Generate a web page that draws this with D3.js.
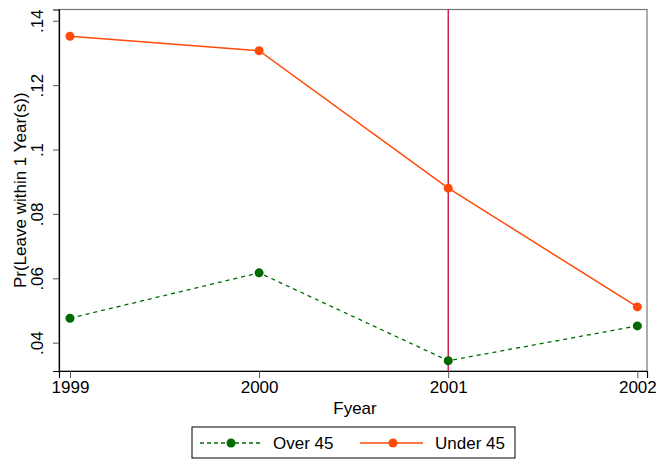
<!DOCTYPE html>
<html><head><meta charset="utf-8">
<script src="https://cdn.jsdelivr.net/npm/d3@7"></script>
<style>body{margin:0;background:#fff;} text{font-family:"Liberation Sans",Arial,Helvetica,sans-serif;fill:#000;}</style>
</head><body>
<svg id="c" width="657" height="460"></svg>
<script>
const years = [1999, 2000, 2001, 2002];
const over45 = [0.0476, 0.0617, 0.0344, 0.0452];
const under45 = [0.1352, 0.1307, 0.0880, 0.0511];
const yTicks = [0.04, 0.06, 0.08, 0.10, 0.12, 0.14];
const yTickLabels = [".04", ".06", ".08", ".1", ".12", ".14"];
const xTicks = [1999, 2000, 2001, 2002];
const refYear = 2001;
const seriesNames = ["Over 45", "Under 45"];

const svg = d3.select("#c");
const L = 59, R = 647, T = 9.5, B = 371;
const FS = 17;
const x = d3.scaleLinear().domain([1998.942, 2002.051]).range([L, R]);
const y = d3.scaleLinear().domain([0.0312, 0.1435]).range([B, T]);

// frame
svg.append("rect").attr("x", L).attr("y", T).attr("width", R - L).attr("height", B - T)
  .attr("fill", "none").attr("stroke", "#777").attr("stroke-width", 1.2);

// reference line
svg.append("line").attr("x1", x(refYear)).attr("x2", x(refYear)).attr("y1", T).attr("y2", B)
  .attr("stroke", "#cc0033").attr("stroke-width", 1.3);

// axes
const yAxis = d3.axisLeft(y).tickValues(yTicks).tickFormat((d, i) => yTickLabels[i]).tickSize(6).tickPadding(3);
const gy = svg.append("g").attr("transform", `translate(${L},0)`).call(yAxis);
gy.select(".domain").attr("stroke", "#000").attr("stroke-width", 1.2);
gy.selectAll(".tick line").attr("stroke", "#555");
gy.selectAll(".tick text").attr("font-size", FS).attr("text-anchor", "middle")
  .attr("transform", "rotate(-90)").attr("x", 0).attr("y", -16).attr("dy", null);

const xAxis = d3.axisBottom(x).tickValues(xTicks).tickFormat(d3.format("d")).tickSize(7).tickPadding(3);
const gx = svg.append("g").attr("transform", `translate(0,${B})`).call(xAxis);
gx.select(".domain").attr("stroke", "#000").attr("stroke-width", 1.2);
gx.selectAll(".tick line").attr("stroke", "#555");
gx.selectAll(".tick text").attr("font-size", FS);

// axis titles
svg.append("text").attr("x", 355).attr("y", 414).attr("text-anchor", "middle")
  .attr("font-size", FS).text("Fyear");
svg.append("text").attr("transform", `translate(26,${(T + B) / 2}) rotate(-90)`)
  .attr("text-anchor", "middle").attr("font-size", FS).text("Pr(Leave within 1 Year(s))");

// series
const line = d3.line().x((d, i) => x(years[i])).y(d => y(d));
const green = "#006a00", orange = "#ff4a0a";
svg.append("path").datum(over45).attr("d", line).attr("fill", "none")
  .attr("stroke", green).attr("stroke-width", 1.3).attr("stroke-dasharray", "4,4");
svg.append("path").datum(under45).attr("d", line).attr("fill", "none")
  .attr("stroke", orange).attr("stroke-width", 1.5);
svg.selectAll(".po").data(over45).enter().append("circle")
  .attr("cx", (d, i) => x(years[i])).attr("cy", d => y(d)).attr("r", 4.5).attr("fill", green);
svg.selectAll(".pu").data(under45).enter().append("circle")
  .attr("cx", (d, i) => x(years[i])).attr("cy", d => y(d)).attr("r", 4.5).attr("fill", orange);

// legend
svg.append("rect").attr("x", 192).attr("y", 427).attr("width", 323).attr("height", 31)
  .attr("fill", "#fff").attr("stroke", "#000").attr("stroke-width", 1);
const ly = 443;
svg.append("line").attr("x1", 200).attr("x2", 262).attr("y1", ly).attr("y2", ly)
  .attr("stroke", green).attr("stroke-width", 1.3).attr("stroke-dasharray", "4,3");
svg.append("circle").attr("cx", 231).attr("cy", ly).attr("r", 4.5).attr("fill", green);
svg.append("text").attr("x", 273).attr("y", ly + 6).attr("font-size", FS).text(seriesNames[0]);
svg.append("line").attr("x1", 360).attr("x2", 423).attr("y1", ly).attr("y2", ly)
  .attr("stroke", orange).attr("stroke-width", 1.5);
svg.append("circle").attr("cx", 393).attr("cy", ly).attr("r", 4.5).attr("fill", orange);
svg.append("text").attr("x", 435).attr("y", ly + 6).attr("font-size", FS).text(seriesNames[1]);
</script>
</body></html>
